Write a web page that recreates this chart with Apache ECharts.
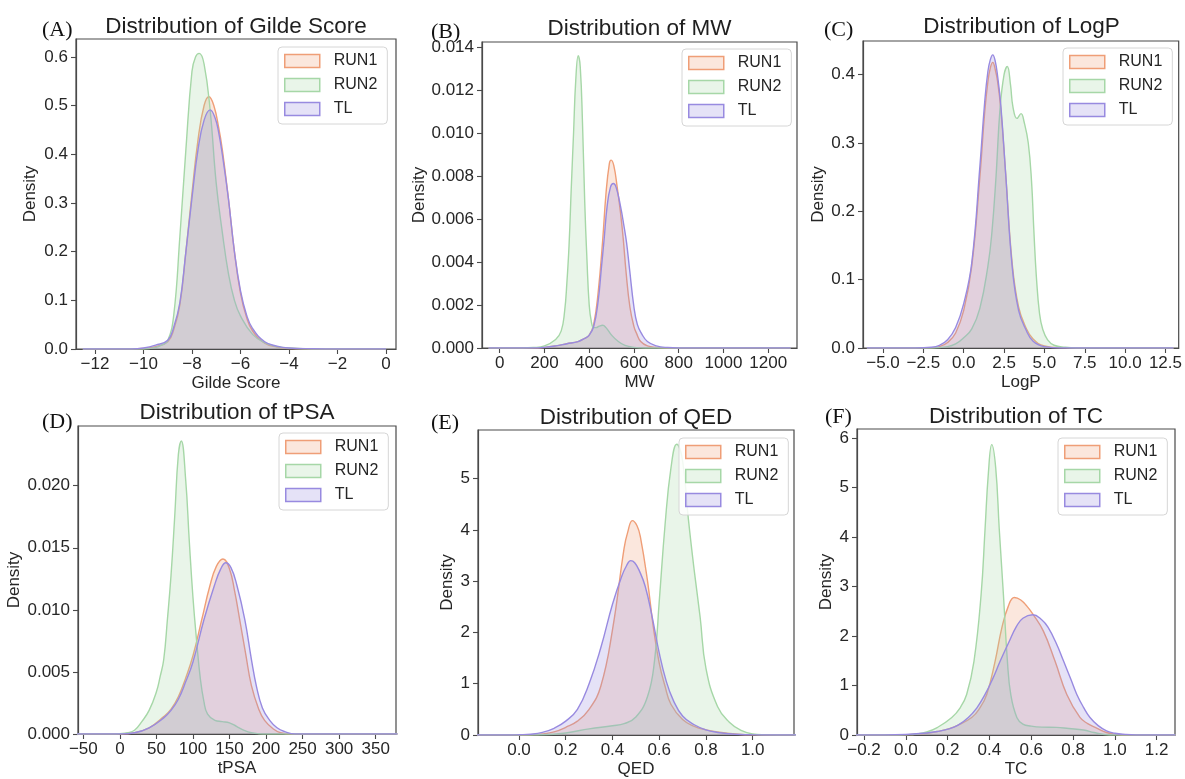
<!DOCTYPE html>
<html><head><meta charset="utf-8">
<script src="https://cdn.jsdelivr.net/npm/echarts@6/dist/echarts.min.js"></script>
<style>html,body{margin:0;padding:0;background:#fff}#c{width:1185px;height:779px}</style>
</head><body><div id="c"></div><script>
// ---------------- names / text ----------------
const seriesNames = ['RUN1', 'RUN2', 'TL'];
const panelLabels = ['(A)', '(B)', '(C)', '(D)', '(E)', '(F)'];
const panelTitles = ['Distribution of Gilde Score', 'Distribution of MW', 'Distribution of LogP',
                     'Distribution of tPSA', 'Distribution of QED', 'Distribution of TC'];
const xNames = ['Gilde Score', 'MW', 'LogP', 'tPSA', 'QED', 'TC'];
const yName = 'Density';

// ---------------- tick labels ----------------
const glideXTicks = [-12, -10, -8, -6, -4, -2, 0];
const glideYTicks = [0, 0.1, 0.2, 0.3, 0.4, 0.5, 0.6];
const mwXTicks = [0, 200, 400, 600, 800, 1000, 1200];
const mwYTicks = [0, 0.002, 0.004, 0.006, 0.008, 0.010, 0.012, 0.014];
const logpXTicks = [-5, -2.5, 0, 2.5, 5, 7.5, 10, 12.5];
const logpYTicks = [0, 0.1, 0.2, 0.3, 0.4];
const tpsaXTicks = [-50, 0, 50, 100, 150, 200, 250, 300, 350];
const tpsaYTicks = [0, 0.005, 0.010, 0.015, 0.020];
const qedXTicks = [0, 0.2, 0.4, 0.6, 0.8, 1.0];
const qedYTicks = [0, 1, 2, 3, 4, 5];
const tcXTicks = [-0.2, 0, 0.2, 0.4, 0.6, 0.8, 1.0, 1.2];
const tcYTicks = [0, 1, 2, 3, 4, 5, 6];

// ---------------- density curves [x, density] ----------------
const glideRun1 = [[-12.5,0],[-10.5,0],[-10,0.001],[-9.5,0.005],[-9,0.015],[-8.75,0.04],[-8.5,0.09],[-8.25,0.2],[-8,0.32],[-7.75,0.43],[-7.5,0.5],[-7.3,0.518],[-7.1,0.5],[-6.9,0.455],[-6.75,0.41],[-6.5,0.31],[-6.25,0.2],[-6,0.115],[-5.75,0.065],[-5.5,0.037],[-5,0.012],[-4.5,0.004],[-4,0.001],[-3,0],[0,0]];
const glideRun2 = [[-12.5,0],[-10,0],[-9.5,0.003],[-9.25,0.008],[-9,0.017],[-8.75,0.07],[-8.5,0.23],[-8.25,0.41],[-8,0.57],[-7.85,0.6],[-7.7,0.607],[-7.5,0.585],[-7.25,0.49],[-7,0.34],[-6.75,0.24],[-6.5,0.156],[-6.25,0.1],[-6,0.068],[-5.5,0.03],[-5,0.013],[-4.5,0.005],[-4,0.002],[-3,0],[0,0]];
const glideTL = [[-12.5,0],[-10.5,0],[-10,0.002],[-9.5,0.008],[-9,0.018],[-8.75,0.045],[-8.5,0.095],[-8.25,0.2],[-8,0.31],[-7.75,0.41],[-7.5,0.47],[-7.25,0.491],[-7.05,0.475],[-6.9,0.445],[-6.75,0.4],[-6.5,0.31],[-6.25,0.2],[-6,0.12],[-5.75,0.07],[-5.5,0.042],[-5,0.015],[-4.5,0.006],[-4,0.002],[-3,0.0005],[-2,0],[0,0]];

const mwRun1 = [[-50,0],[150,0],[200,0.00003],[250,0.0001],[300,0.0002],[350,0.0003],[380,0.00045],[400,0.0006],[420,0.0011],[440,0.0026],[460,0.005],[475,0.0072],[490,0.0086],[498,0.00876],[510,0.0085],[525,0.0075],[540,0.0063],[552,0.0051],[565,0.0035],[582,0.0019],[600,0.001],[612,0.00067],[630,0.0003],[660,0.0001],[700,0.00003],[750,0],[1300,0]];
const mwRun2 = [[-50,0],[100,0],[150,0.00002],[200,0.0001],[250,0.0004],[275,0.0008],[290,0.0017],[300,0.003],[310,0.0048],[320,0.0075],[330,0.01],[340,0.0125],[351,0.01363],[360,0.0131],[370,0.0105],[380,0.0068],[390,0.0041],[400,0.002],[410,0.0012],[420,0.00095],[430,0.00095],[445,0.00102],[460,0.00106],[475,0.00095],[500,0.0006],[530,0.0003],[560,0.00012],[600,0.00003],[650,0],[1300,0]];
const mwTL = [[-50,0],[150,0],[200,0.00003],[250,0.0001],[300,0.0002],[350,0.0003],[380,0.00045],[400,0.0006],[420,0.001],[440,0.0022],[455,0.0038],[466,0.005],[480,0.0066],[495,0.0075],[508,0.00767],[520,0.0075],[540,0.0066],[555,0.0057],[567,0.0049],[580,0.0037],[600,0.0019],[615,0.0011],[634,0.00067],[660,0.0003],[700,0.0001],[750,0.00002],[800,0],[1300,0]];

const logpRun1 = [[-6,0],[-3,0],[-2,0.0005],[-1.5,0.002],[-1,0.008],[-0.5,0.022],[0,0.055],[0.5,0.12],[1,0.25],[1.3,0.345],[1.5,0.39],[1.65,0.41],[1.8,0.418],[1.95,0.408],[2.1,0.39],[2.3,0.35],[2.6,0.255],[3,0.125],[3.4,0.06],[3.85,0.03],[4.3,0.013],[5,0.003],[6,0.0005],[7,0.0002],[13,0]];
const logpRun2 = [[-6,0],[-2,0],[-1,0.002],[-0.5,0.006],[0,0.015],[0.5,0.028],[1,0.058],[1.5,0.12],[1.75,0.17],[2,0.25],[2.25,0.35],[2.5,0.4],[2.7,0.412],[2.9,0.385],[3.05,0.353],[3.3,0.336],[3.55,0.343],[3.75,0.33],[4,0.3],[4.2,0.245],[4.35,0.17],[4.5,0.105],[4.7,0.05],[4.9,0.027],[5.2,0.012],[5.6,0.004],[6.3,0.001],[7,0],[13,0]];
const logpTL = [[-6,0],[-3,0],[-2,0.001],[-1.5,0.004],[-1,0.012],[-0.5,0.03],[0,0.065],[0.5,0.125],[1,0.265],[1.3,0.36],[1.5,0.405],[1.65,0.422],[1.8,0.429],[1.95,0.42],[2.1,0.398],[2.3,0.355],[2.6,0.255],[3,0.12],[3.4,0.055],[3.85,0.027],[4.3,0.01],[5,0.002],[6,0],[13,0]];

const tpsaRun1 = [[-60,0],[0,0],[20,0.0001],[40,0.0005],[60,0.0014],[70,0.002],[80,0.003],[90,0.0045],[100,0.0063],[112,0.0092],[123,0.0119],[132,0.0135],[141,0.0141],[150,0.0133],[157,0.0115],[164,0.0092],[172,0.0065],[180,0.0039],[190,0.002],[198,0.0011],[210,0.0004],[220,0.0001],[235,0],[380,0]];
const tpsaRun2 = [[-60,0],[-10,0],[0,0.00003],[10,0.0001],[20,0.0003],[30,0.001],[40,0.0019],[50,0.0034],[55,0.0046],[60,0.006],[65,0.0092],[70,0.0128],[75,0.0175],[80,0.0225],[84,0.0236],[90,0.0205],[95,0.0155],[100,0.011],[105,0.0075],[110,0.0045],[115,0.0026],[120,0.0016],[130,0.0011],[140,0.001],[150,0.0009],[160,0.0006],[170,0.0003],[180,0.0001],[190,0.00002],[200,0],[380,0]];
const tpsaTL = [[-60,0],[0,0],[20,0.0001],[40,0.0005],[60,0.0013],[70,0.0019],[80,0.0028],[90,0.0042],[100,0.0058],[115,0.0092],[129,0.0119],[138,0.0133],[145,0.0138],[152,0.0134],[160,0.012],[171,0.0092],[180,0.006],[187,0.0038],[195,0.0021],[205,0.0011],[215,0.0005],[225,0.0002],[240,0],[380,0]];

const qedRun1 = [[-0.2,0],[0,0],[0.05,0.005],[0.1,0.02],[0.15,0.06],[0.2,0.15],[0.25,0.27],[0.3,0.5],[0.35,0.95],[0.4,2.05],[0.45,3.65],[0.465,3.95],[0.485,4.18],[0.505,4.08],[0.52,3.85],[0.55,3.0],[0.575,2.1],[0.6,1.4],[0.625,0.95],[0.65,0.6],[0.7,0.3],[0.75,0.17],[0.8,0.1],[0.85,0.06],[0.9,0.03],[0.95,0.01],[1,0.003],[1.05,0],[1.2,0]];
const qedRun2 = [[-0.2,0],[0,0],[0.1,0.005],[0.2,0.04],[0.3,0.12],[0.4,0.18],[0.45,0.22],[0.5,0.35],[0.55,0.75],[0.58,1.45],[0.6,2.6],[0.625,4.1],[0.65,5.2],[0.675,5.67],[0.7,5.35],[0.725,4.2],[0.75,3.2],[0.775,2.3],[0.8,1.3],[0.85,0.55],[0.9,0.25],[0.95,0.09],[1,0.02],[1.05,0.003],[1.1,0],[1.2,0]];
const qedTL = [[-0.2,0],[-0.05,0],[0,0.005],[0.05,0.015],[0.1,0.05],[0.15,0.13],[0.2,0.27],[0.25,0.5],[0.3,1.0],[0.35,1.7],[0.4,2.55],[0.44,3.1],[0.46,3.3],[0.478,3.4],[0.495,3.36],[0.515,3.2],[0.54,2.9],[0.57,2.3],[0.6,1.6],[0.63,1.05],[0.66,0.68],[0.7,0.37],[0.75,0.2],[0.8,0.1],[0.85,0.05],[0.9,0.025],[0.95,0.01],[1,0.003],[1.05,0],[1.2,0]];

const tcRun1 = [[-0.25,0],[-0.05,0],[0,0.005],[0.05,0.015],[0.1,0.035],[0.15,0.07],[0.2,0.12],[0.25,0.2],[0.315,0.355],[0.35,0.52],[0.387,0.82],[0.427,1.49],[0.459,2.16],[0.49,2.6],[0.519,2.78],[0.55,2.73],[0.58,2.6],[0.607,2.45],[0.658,2.1],[0.714,1.49],[0.77,0.82],[0.833,0.355],[0.87,0.23],[0.913,0.14],[0.96,0.05],[1.01,0.01],[1.06,0],[1.29,0]];
const tcRun2 = [[-0.25,0],[-0.05,0],[0,0.005],[0.05,0.02],[0.1,0.06],[0.15,0.15],[0.22,0.355],[0.26,0.55],[0.291,0.82],[0.326,1.49],[0.36,2.83],[0.379,4.16],[0.395,5.3],[0.411,5.87],[0.43,5.4],[0.447,4.16],[0.467,2.83],[0.486,1.49],[0.502,0.82],[0.531,0.355],[0.56,0.22],[0.6,0.18],[0.65,0.16],[0.72,0.155],[0.78,0.13],[0.85,0.1],[0.9,0.05],[0.95,0.01],[1,0],[1.29,0]];
const tcTL = [[-0.25,0],[-0.1,0],[0,0.01],[0.1,0.04],[0.15,0.07],[0.211,0.13],[0.25,0.2],[0.299,0.355],[0.34,0.55],[0.379,0.82],[0.415,1.13],[0.451,1.49],[0.49,1.85],[0.53,2.2],[0.56,2.36],[0.607,2.43],[0.65,2.33],[0.68,2.18],[0.72,1.85],[0.754,1.5],[0.79,1.12],[0.818,0.82],[0.85,0.56],[0.881,0.355],[0.92,0.19],[0.96,0.085],[1,0.035],[1.05,0.01],[1.1,0],[1.29,0]];

// ---------------- assembly ----------------
const panelData = [
  [glideRun1, glideRun2, glideTL],
  [mwRun1, mwRun2, mwTL],
  [logpRun1, logpRun2, logpTL],
  [tpsaRun1, tpsaRun2, tpsaTL],
  [qedRun1, qedRun2, qedTL],
  [tcRun1, tcRun2, tcTL]
];
const panelXTicks = [glideXTicks, mwXTicks, logpXTicks, tpsaXTicks, qedXTicks, tcXTicks];
const panelYTicks = [glideYTicks, mwYTicks, logpYTicks, tpsaYTicks, qedYTicks, tcYTicks];

// layout (pixel boxes and axis extents)
const layout = [
  {g:[76,39,320,310],  x:[-12.78,0.41],  y:[0,0.6366],  xd:0, yd:1, yGap:37, lab:[42,19],  tt:15,  lg:[278,47]},
  {g:[482,42,315,306], x:[-79,1328.4],   y:[0,0.014266],xd:0, yd:3, yGap:54, lab:[431,21], tt:17,  lg:[682,49]},
  {g:[863,41,317,307], x:[-6.24,13.32],  y:[0,0.4493],  xd:1, yd:1, yGap:36, lab:[824,19], tt:15,  lg:[1063,48]},
  {g:[78,426,318,308], x:[-57.3,377.8],  y:[0,0.02481], xd:0, yd:3, yGap:55, lab:[42,411], tt:401, lg:[279,433]},
  {g:[478,430,316,308],x:[-0.1754,1.1767],y:[0,5.947],  xd:1, yd:0, yGap:22, lab:[431,412],tt:406, lg:[679,438]},
  {g:[857,429,318,309],x:[-0.2335,1.2876],y:[0,6.186],  xd:1, yd:0, yGap:22, lab:[825,406],tt:405, lg:[1058,438]}
];

const lineColors = ['#EF9E77', '#A6D7A7', '#988AE0'];
const fillColors = ['rgba(239,158,119,0.25)', 'rgba(166,215,167,0.25)', 'rgba(152,138,224,0.25)'];
const FONT = '"Liberation Sans", Arial, sans-serif';
const SPINE = '#4a4a4a';

function fmt(v, d) {
  const s = Math.abs(v).toFixed(d);
  return (v < 0 && Number(s) !== 0) ? '\u2212' + s : s;
}

const grids = [], xAxes = [], yAxes = [], series = [], legends = [], graphics = [];
layout.forEach((L, i) => {
  grids.push({left: L.g[0], top: L.g[1], width: L.g[2], height: L.g[3], show: true,
              borderColor: SPINE, borderWidth: 1.2, backgroundColor: 'transparent', containLabel: false});
  xAxes.push({
    type: 'value', gridIndex: i, min: L.x[0], max: L.x[1],
    name: xNames[i], nameLocation: 'middle', nameGap: 26,
    nameTextStyle: {fontFamily: FONT, fontSize: 17, color: '#262626'},
    axisLine: {show: true, onZero: false, lineStyle: {color: SPINE, width: 1.2}},
    axisTick: {show: true, customValues: panelXTicks[i], length: 5, lineStyle: {color: SPINE, width: 1.1}},
    axisLabel: {customValues: panelXTicks[i], fontFamily: FONT, fontSize: 17, color: '#262626', margin: 7,
                formatter: v => fmt(v, L.xd)},
    splitLine: {show: false}
  });
  yAxes.push({
    type: 'value', gridIndex: i, min: L.y[0], max: L.y[1],
    name: yName, nameLocation: 'middle', nameGap: L.yGap, nameRotate: 90,
    nameTextStyle: {fontFamily: FONT, fontSize: 17, color: '#262626'},
    axisLine: {show: true, onZero: false, lineStyle: {color: SPINE, width: 1.2}},
    axisTick: {show: true, customValues: panelYTicks[i], length: 5, lineStyle: {color: SPINE, width: 1.1}},
    axisLabel: {customValues: panelYTicks[i], fontFamily: FONT, fontSize: 17, color: '#262626', margin: 8,
                formatter: v => fmt(v, L.yd)},
    splitLine: {show: false}
  });
  panelData[i].forEach((d, k) => {
    series.push({
      type: 'line', name: seriesNames[k], xAxisIndex: i, yAxisIndex: i, data: d,
      showSymbol: false, symbol: 'none', smooth: 0.45, silent: true,
      lineStyle: {color: lineColors[k], width: 1.4},
      itemStyle: {color: lineColors[k]},
      areaStyle: {color: fillColors[k], opacity: 1},
      z: 2 + k
    });
  });
  legends.push({
    left: L.lg[0], top: L.lg[1], orient: 'vertical', icon: 'rect',
    itemWidth: 35, itemHeight: 13, itemGap: 6, selectedMode: false,
    padding: [5, 10, 6, 6], backgroundColor: 'rgba(255,255,255,0.85)',
    borderColor: '#d6d6d6', borderWidth: 1, borderRadius: 4,
    textStyle: {fontFamily: FONT, fontSize: 16, color: '#262626', lineHeight: 18, padding: [0, 0, 0, 9]},
    data: seriesNames.map((n, k) => ({name: n,
      itemStyle: {color: fillColors[k], borderColor: lineColors[k], borderWidth: 1.5}}))
  });
  graphics.push({type: 'text', x: L.g[0] + L.g[2] / 2, y: L.tt, silent: true,
    style: {text: panelTitles[i], font: '22.5px ' + FONT, fill: '#1f1f1f', textAlign: 'center', textVerticalAlign: 'top'}});
  graphics.push({type: 'text', x: L.lab[0], y: L.lab[1], silent: true,
    style: {text: panelLabels[i], font: '22px "Liberation Serif", "Times New Roman", serif', fill: '#111', textAlign: 'left', textVerticalAlign: 'top'}});
});

const chart = echarts.init(document.getElementById('c'), null, {renderer: 'canvas'});
chart.setOption({
  backgroundColor: '#ffffff',
  animation: false,
  grid: grids, xAxis: xAxes, yAxis: yAxes, series: series, legend: legends,
  graphic: graphics
});
</script></body></html>
